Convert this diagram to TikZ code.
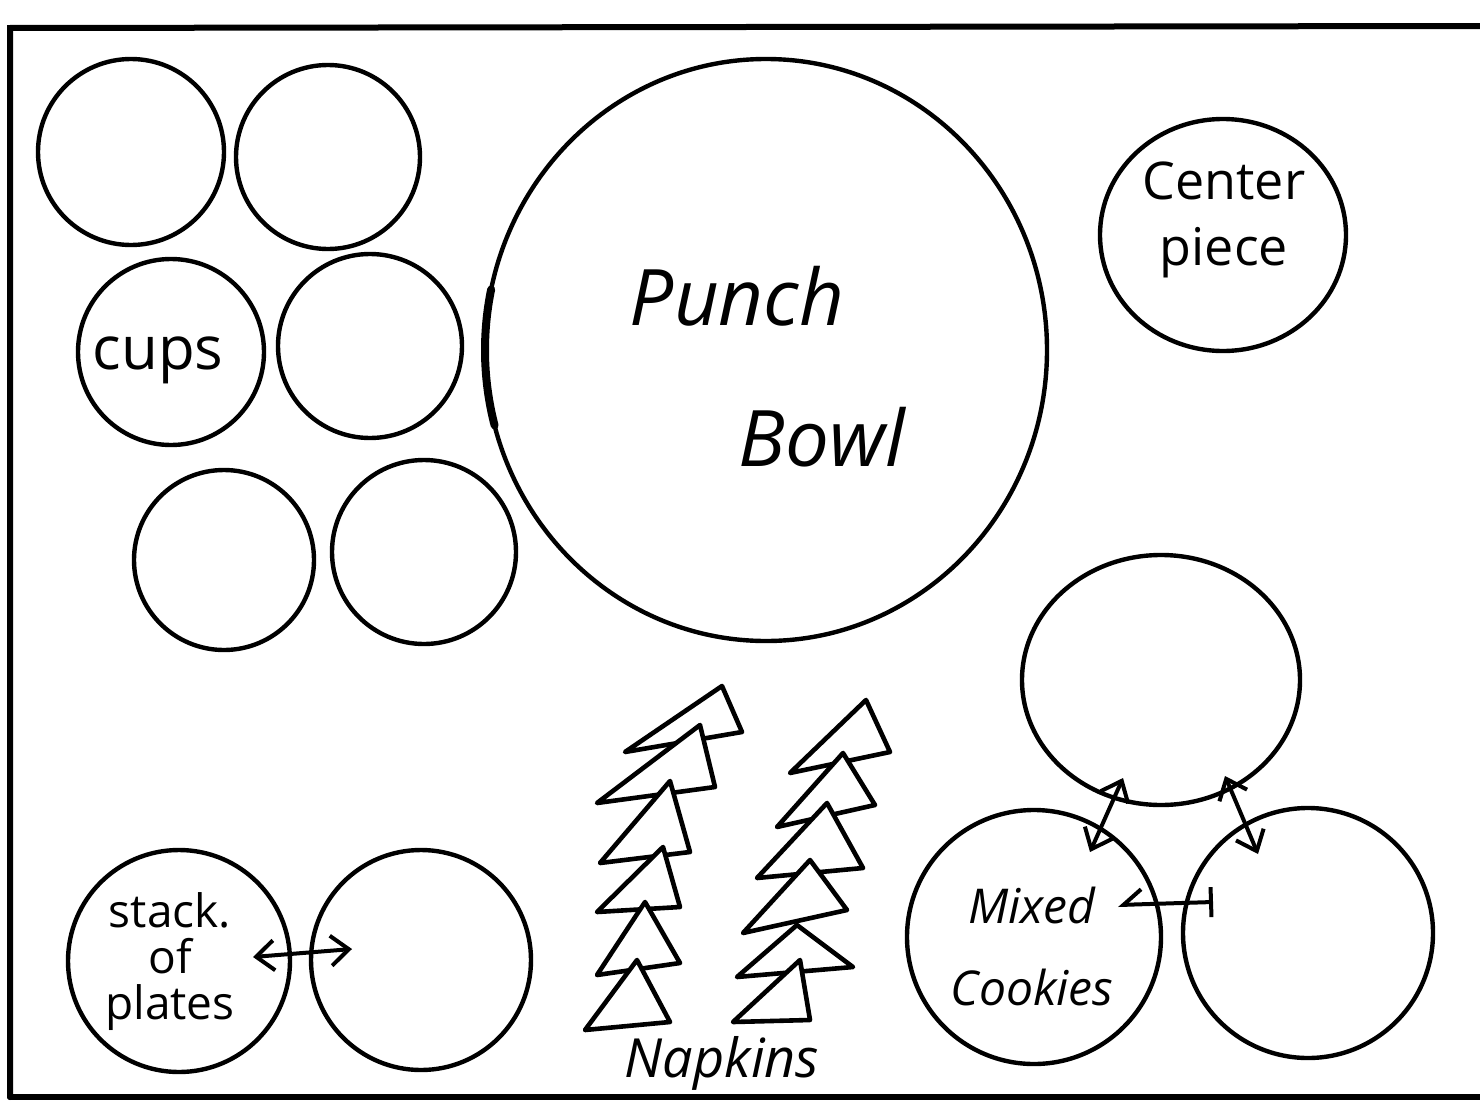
\documentclass[tikz,border=0pt]{standalone}
\usepackage{fontspec}
\setmainfont{Open Sans}
\usetikzlibrary{arrows.meta,shapes.geometric}
\begin{document}
\begin{tikzpicture}[x=1pt,y=-1pt,
  plate/.style={draw, circle, line width=4.4pt, inner sep=0pt},
  ink/.style={line width=4pt, line cap=round, line join=round},
  frameline/.style={line width=6pt, line cap=round},
  napkin/.style={draw, fill=white, line width=4.6pt, line join=round, line cap=round},
  lbl/.style={inner sep=0pt, align=center},
  barb/.tip={Straight Barb[length=18pt, width=30pt, line width=4pt]}
]
\useasboundingbox (0,0) rectangle (1480,1100);

% table edge
\draw[frameline] (10,1097) -- (10,28) -- (1482,26);
\draw[frameline] (10,1097) -- (1482,1097);

% cups
\node[plate, minimum size=186] (cupA) at (131,152) {};
\node[plate, minimum size=184] (cupB) at (328,157) {};
\node[plate, minimum size=186] (cupC) at (171,352) {};
\node[plate, minimum size=184] (cupD) at (370,346) {};
\node[plate, minimum size=180] (cupE) at (224,560) {};
\node[plate, minimum size=184] (cupF) at (424,552) {};
\node[lbl, font=\fontsize{60}{60}\selectfont] (cupsT) at (158,360) {cups};

% punch bowl, with the heavier stroke on its left side
\node[plate, ellipse, minimum width=562, minimum height=582] (bowl) at (766,350) {};
\draw[line width=8pt, line cap=round] (bowl.center) ++(192:281 and 291)
  arc[start angle=192, end angle=165, x radius=281, y radius=291];
\node[lbl, font=\itshape\fontsize{78}{80}\selectfont] (punchT) at (737,296) {Punch};
\node[lbl, font=\itshape\fontsize{78}{80}\selectfont] (bowlT) at (822,437) {Bowl};

% centerpiece
\node[plate, ellipse, minimum width=246, minimum height=232] (centre) at (1223,235) {};
\node[lbl, font=\fontsize{52}{66}\selectfont] (centreT) at (1224,220) {Center\\piece};

% plates
\node[plate, minimum size=222] (stack) at (179,961) {};
\node[plate, minimum size=220] (plateB) at (421,960) {};
\node[lbl, font=\fontsize{46}{46}\selectfont] (stackT) at (170,962) {stack.\\of\\plates};
\coordinate (stackR) at (253,957);
\coordinate (plateL) at (352,949);
\draw[ink, barb-barb] (stackR) -- (plateL);

% cookies
\node[plate, ellipse, minimum width=278, minimum height=250] (cookT) at (1161,680) {};
\node[plate, minimum size=254] (cookM) at (1034,937) {};
\node[plate, minimum size=250] (cookR) at (1308,933) {};
\node[lbl, font=\itshape\fontsize{48}{82}\selectfont] (cookTx) at (1032,946) {Mixed\\Cookies};
\coordinate (mUp) at (1090,852);
\coordinate (tDownL) at (1123,778);
\coordinate (tDownR) at (1225,776);
\coordinate (rUp) at (1258,854);
\coordinate (mRight) at (1118,905);
\coordinate (rLeft) at (1213,902);
\draw[ink, barb-barb] (mUp) -- (tDownL);
\draw[ink, barb-barb] (tDownR) -- (rUp);
\draw[ink, {Straight Barb[harpoon, swap, length=18pt, width=30pt, line width=4pt]}-{Bar[width=30pt, line width=4pt]}] (mRight) -- (rLeft);

% napkins, left stack (top to bottom so each covers the one above)
\draw[napkin] (722,686) -- (625,752) -- (742,732) -- cycle;
\draw[napkin] (700,725) -- (597,803) -- (715,787) -- cycle;
\draw[napkin] (670,781) -- (600,863) -- (690,852) -- cycle;
\draw[napkin] (663,847) -- (597,912) -- (680,907) -- cycle;
\draw[napkin] (645,902) -- (597,975) -- (680,963) -- cycle;
\draw[napkin] (637,960) -- (585,1030) -- (670,1022) -- cycle;
% napkins, right stack
\draw[napkin] (866,700) -- (790,773) -- (890,752) -- cycle;
\draw[napkin] (843,753) -- (777,827) -- (875,805) -- cycle;
\draw[napkin] (827,803) -- (757,878) -- (863,868) -- cycle;
\draw[napkin] (810,860) -- (743,933) -- (847,910) -- cycle;
\draw[napkin] (797,925) -- (737,977) -- (853,967) -- cycle;
\draw[napkin] (800,960) -- (733,1022) -- (810,1020) -- cycle;
\node[lbl, anchor=base, font=\itshape\fontsize{54}{54}\selectfont] (napT) at (722,1077) {Napkins};
\end{tikzpicture}
\end{document}
